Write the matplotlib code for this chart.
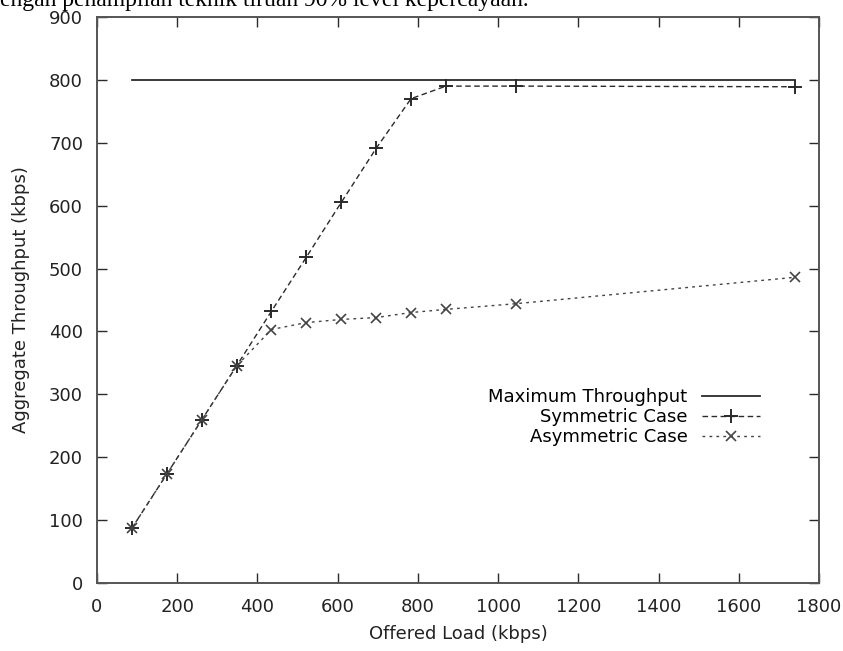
import numpy as np
import matplotlib
matplotlib.use("Agg")
from matplotlib import pyplot as plt

# offered load (kbps)
load = [87, 174, 261, 348, 435, 522, 609, 696, 783, 870, 1044, 1740]
# aggregate throughput (kbps)
sym = [87, 173, 259, 345, 432, 518, 605, 691, 770, 790, 790, 789]
asym = [87, 173, 259, 345, 403, 414, 419, 422, 430, 435, 444, 486]
max_x = [87, 1740]
max_y = [800, 800]

xticks = np.arange(0, 1801, 200)
yticks = np.arange(0, 901, 100)

plt.rcParams['font.family'] = ['DejaVu Sans']
plt.rcParams['font.size'] = 13

fig = plt.figure(figsize=(8.43, 6.51), dpi=100)
ax = fig.add_axes([0.115, 0.1045, 0.8565, 0.8695])

ink = '#2a2a2a'
ax.plot(max_x, max_y, '-', color=ink, lw=1.3, label='Maximum Throughput')
ax.plot(load, sym, '--', color=ink, lw=1.0, dashes=(4, 2.5), marker='+',
        ms=10, mew=1.4, label='Symmetric Case')
ax.plot(load, asym, ':', color='#444444', lw=1.0, dashes=(2, 3), marker='x',
        ms=7, mew=1.2, label='Asymmetric Case')

ax.set_xlim(0, 1800)
ax.set_ylim(0, 900)
ax.set_xticks(xticks)
ax.set_yticks(yticks)
ax.tick_params(axis='x', pad=11)
ax.tick_params(axis='y', pad=10)
ax.tick_params(direction='in', length=7, width=1, top=True, right=True,
               colors=ink, labelcolor='#222222')
for s in ax.spines.values():
    s.set_color('#555555')
    s.set_linewidth(1.4)

ax.set_xlabel('Offered Load (kbps)', color='#222222', labelpad=6)
ax.set_ylabel('Aggregate Throughput (kbps)', color='#222222', labelpad=14)

leg = ax.legend(loc='center right', bbox_to_anchor=(0.918, 0.293), frameon=False,
                markerfirst=False, handlelength=3.2, handletextpad=0.8,
                labelspacing=0.12, borderpad=0, borderaxespad=0)

# cropped caption line from the page above the chart
fig.text(0.0, 1 - 6 / 651, 'engan penampilan teknik tiruan 90% level kepercayaan.',
         family='Liberation Serif', fontsize=17, va='baseline', ha='left', color='black')

fig.savefig('out.png', dpi=100)
plt.close()
